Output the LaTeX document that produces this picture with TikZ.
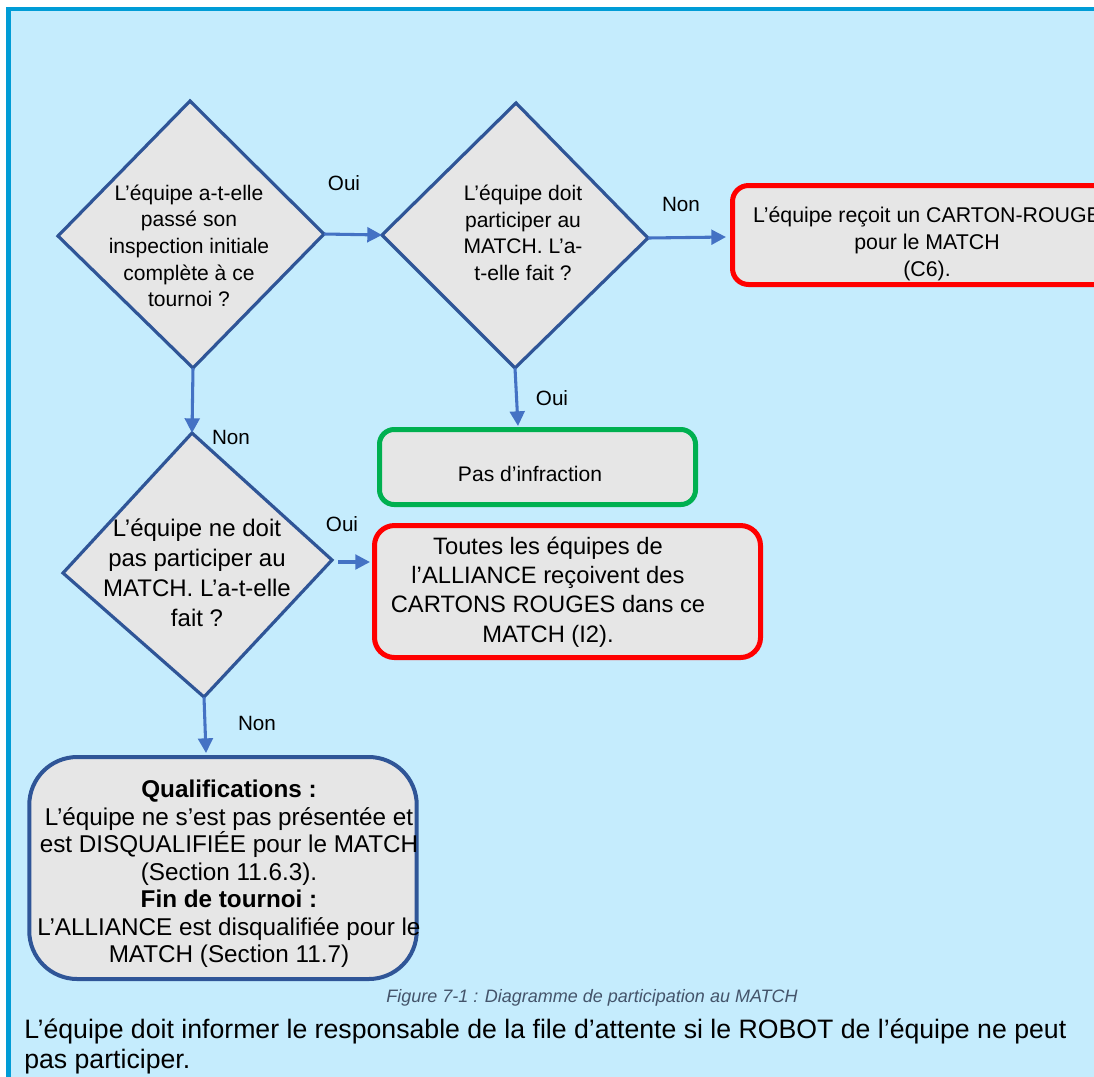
\documentclass[tikz,border=0pt]{standalone}
\usepackage{fontspec}
\setmainfont{Liberation Sans}
\usetikzlibrary{arrows.meta}
\definecolor{bgblue}{RGB}{197,236,253}
\definecolor{frameblue}{RGB}{0,156,214}
\definecolor{dblue}{RGB}{47,85,151}
\definecolor{ablue}{RGB}{68,114,196}
\definecolor{dfill}{RGB}{230,230,230}
\definecolor{rred}{RGB}{255,0,0}
\definecolor{ggreen}{RGB}{0,176,80}
\definecolor{capgray}{RGB}{68,84,106}
\begin{document}
\begin{tikzpicture}[x=0.75pt,y=-0.75pt,
  decision/.style={draw=dblue, fill=dfill, line width=2.4pt, line join=miter},
  qtext/.style={align=center, inner sep=0pt, font=\fontsize{15.8}{20}\selectfont},
  arr/.style={draw=ablue, line width=2.3pt, -{Triangle[length=11pt,width=11pt]}},
  lbl/.style={inner sep=0pt, font=\fontsize{15.5}{18}\selectfont},
  redbox/.style={draw=rred, fill=dfill, line width=3.75pt, rounded corners=12pt, inner sep=0pt},
  greenbox/.style={draw=ggreen, fill=dfill, line width=3.75pt, rounded corners=11pt, inner sep=0pt},
  bluebox/.style={draw=dblue, fill=dfill, line width=3pt, rounded corners=36pt, inner sep=0pt},
  btext/.style={align=center, inner sep=0pt}
]
\useasboundingbox (0,0) rectangle (1094,1076);
\clip (0,0) rectangle (1094,1076);
\fill[white] (0,0) rectangle (1094,1076);
\fill[bgblue] (8.5,9) rectangle (1100,1080);
\draw[frameblue, line width=3.5pt] (8.5,1085) -- (8.5,9) -- (1100,9);

% decision 1
\coordinate (d1t) at (190,101);
\coordinate (d1r) at (324,234);
\coordinate (d1b) at (193,368);
\coordinate (d1l) at (58,236);
\draw[decision] (d1t) -- (d1r) -- (d1b) -- (d1l) -- cycle;
\node[qtext] (q1) at (189,246) {L’équipe a-t-elle\\passé son\\inspection initiale\\complète à ce\\tournoi ?};

% decision 2
\coordinate (d2t) at (516,103);
\coordinate (d2r) at (648,238);
\coordinate (d2b) at (515,368);
\coordinate (d2l) at (382,235);
\draw[decision] (d2t) -- (d2r) -- (d2b) -- (d2l) -- cycle;
\node[qtext] (q2) at (523,233) {L’équipe doit\\participer au\\MATCH. L’a-\\t-elle fait ?};

% decision 3
\coordinate (d3t) at (192,433);
\coordinate (d3r) at (332,560);
\coordinate (d3b) at (204,697);
\coordinate (d3l) at (63,573);
\draw[decision] (d3t) -- (d3r) -- (d3b) -- (d3l) -- cycle;
\node[qtext, font=\fontsize{18}{22.5}\selectfont] (q3) at (197,573) {L’équipe ne doit\\pas participer au\\MATCH. L’a-t-elle\\fait ?};

% outcome boxes
\node[redbox, minimum width=291.75pt, minimum height=74.25pt] (r1) at (927,235) {};
\node[btext, font=\fontsize{16}{20}\selectfont] (r1t) at (927,244) {L’équipe reçoit un CARTON-ROUGE\\pour le MATCH\\(C6).};

\node[greenbox, minimum width=237pt, minimum height=56.25pt] (g1) at (537.5,467) {};
\node[btext, font=\fontsize{15.8}{20}\selectfont] (g1t) at (530,474) {Pas d’infraction};

\node[redbox, rounded corners=15pt, minimum width=289.5pt, minimum height=99pt] (r2) at (567.5,591.5) {};
\node[btext, font=\fontsize{17.8}{22}\selectfont] (r2t) at (548,592) {Toutes les équipes de\\l’ALLIANCE reçoivent des\\CARTONS ROUGES dans ce\\MATCH (I2).};

\node[bluebox, minimum width=290.6pt, minimum height=166.5pt] (b1) at (223,868) {};
\node[btext, font=\fontsize{18.2}{20.6}\selectfont] (b1t) at (229,874) {\textbf{Qualifications :}\\L’équipe ne s’est pas présentée et\\est DISQUALIFIÉE pour le MATCH\\(Section 11.6.3).\\\textbf{Fin de tournoi :}\\L’ALLIANCE est disqualifiée pour le\\MATCH (Section 11.7)};

% connector end points
\coordinate (a3e) at (518,426);
\coordinate (a5s) at (338,562);
\coordinate (a5e) at (370,562);
\coordinate (a6e) at (206,753);
\coordinate (a2e) at (726,237);

% connectors
\draw[arr] (d1r) -- (d2l);
\draw[arr] (d2r) -- (a2e);
\draw[arr] (d2b) -- (a3e);
\draw[arr] (d1b) -- (d3t);
\draw[arr] (a5s) -- (a5e);
\draw[arr] (d3b) -- (a6e);

% labels
\node[lbl] (l1) at (344,183) {Oui};
\node[lbl] (l2) at (681,204) {Non};
\node[lbl] (l3) at (552,398) {Oui};
\node[lbl] (l4) at (231,437) {Non};
\node[lbl] (l5) at (342,524) {Oui};
\node[lbl] (l6) at (257,723) {Non};

% caption and paragraph
\node[inner sep=0pt, text=capgray, font=\fontsize{13.5}{16}\selectfont\itshape] (cap) at (592,998) {Figure 7-1 : Diagramme de participation au MATCH};
\node[inner sep=0pt, anchor=west, align=left, font=\fontsize{20}{22.5}\selectfont] (para) at (24,1046) {L’équipe doit informer le responsable de la file d’attente si le ROBOT de l’équipe ne peut\\pas participer.};
\end{tikzpicture}
\end{document}
